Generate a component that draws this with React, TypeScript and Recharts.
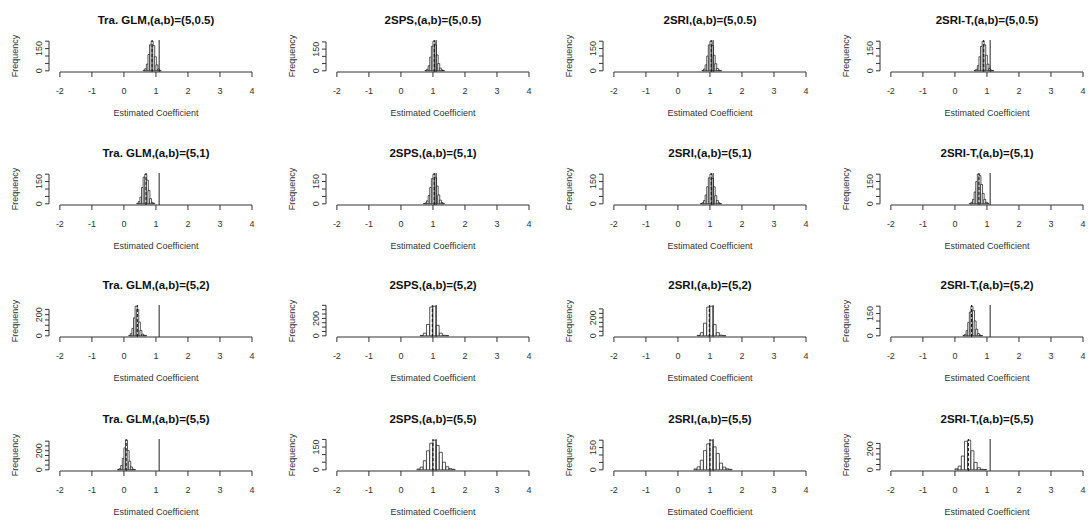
import { ComposedChart, Bar, XAxis, YAxis, ReferenceLine } from "recharts";

// simulation histograms, 4 methods x 4 (a,b) settings
const titles = [
  "Tra. GLM,(a,b)=(5,0.5)", "2SPS,(a,b)=(5,0.5)", "2SRI,(a,b)=(5,0.5)", "2SRI-T,(a,b)=(5,0.5)",
  "Tra. GLM,(a,b)=(5,1)", "2SPS,(a,b)=(5,1)", "2SRI,(a,b)=(5,1)", "2SRI-T,(a,b)=(5,1)",
  "Tra. GLM,(a,b)=(5,2)", "2SPS,(a,b)=(5,2)", "2SRI,(a,b)=(5,2)", "2SRI-T,(a,b)=(5,2)",
  "Tra. GLM,(a,b)=(5,5)", "2SPS,(a,b)=(5,5)", "2SRI,(a,b)=(5,5)", "2SRI-T,(a,b)=(5,5)",
];

// left edge of first bin, bin width
const binStarts = [0.6, 0.75, 0.75, 0.6, 0.4, 0.7, 0.7, 0.45, 0.15, 0.6, 0.6, 0.25, -0.2, 0.5, 0.5, 0.0];
const binWidths = [0.05, 0.05, 0.05, 0.05, 0.05, 0.05, 0.05, 0.05, 0.05, 0.1, 0.1, 0.05, 0.05, 0.1, 0.1, 0.1];

const counts = [
  [4, 14, 45, 110, 175, 200, 170, 95, 40, 12, 3],
  [3, 10, 35, 95, 170, 205, 180, 110, 50, 18, 6, 2],
  [3, 12, 40, 100, 175, 200, 170, 105, 48, 16, 5, 2],
  [3, 10, 35, 95, 165, 200, 175, 105, 45, 15, 5, 2],
  [4, 15, 45, 110, 180, 200, 160, 90, 35, 10, 3],
  [2, 6, 20, 55, 110, 170, 200, 175, 120, 60, 25, 8, 3],
  [2, 7, 22, 60, 115, 175, 200, 170, 115, 55, 22, 7, 2],
  [3, 10, 30, 80, 150, 200, 190, 130, 70, 30, 10, 4],
  [4, 20, 70, 170, 280, 250, 130, 50, 15, 5, 2],
  [4, 30, 130, 330, 340, 120, 30, 6, 2],
  [5, 35, 140, 320, 330, 125, 35, 8, 2],
  [3, 10, 35, 90, 160, 200, 170, 100, 45, 15, 5, 2],
  [3, 12, 45, 120, 230, 310, 200, 90, 30, 8, 2],
  [5, 18, 60, 125, 175, 195, 160, 115, 50, 20, 8, 3],
  [6, 20, 65, 130, 175, 200, 155, 110, 45, 18, 7, 3],
  [10, 35, 130, 270, 280, 180, 70, 20, 5, 2],
];

const means = [0.88, 1.04, 1.04, 0.9, 0.69, 1.04, 1.04, 0.75, 0.42, 0.98, 0.98, 0.52, 0.07, 1.0, 1.0, 0.42];
const shownYLabels = [150, 150, 150, 150, 150, 150, 150, 150, 200, 200, 200, 150, 200, 150, 150, 200];

const xTicks = [-2, -1, 0, 1, 2, 3, 4];
const TRUE_BETA = 1.1;
const XLO = -2.34;

const COL_LEFT = [0, 277, 554, 831];
const ROW_TOP = [0, 133, 265, 399];
const FONT = "'Liberation Sans', Arial, sans-serif";

const YTick = (props: any) => {
  const { x, y, payload, label } = props;
  if (payload.value !== 0 && payload.value !== label) return <g />;
  return (
    <text
      x={x}
      y={y}
      transform={`rotate(-90 ${x} ${y})`}
      textAnchor="middle"
      fontSize={9}
      fontFamily={FONT}
      fill="#333"
    >
      {payload.value}
    </text>
  );
};

const Panel = ({ idx }: { idx: number }) => {
  const row = Math.floor(idx / 4);
  const col = idx % 4;
  const w = binWidths[idx];
  const data = counts[idx].map((n, i) => ({
    x: Math.round((binStarts[idx] + (i + 0.5) * w) * 1000) / 1000,
    n,
  }));
  const M = Math.max(...counts[idx]);
  const yLo = -0.04 * M;
  const yHi = 1.04 * M;
  const yTicks: number[] = [];
  for (let t = 0; t <= yHi; t += 50) yTicks.push(t);
  const topTick = yTicks[yTicks.length - 1];

  return (
    <div
      style={{
        position: "absolute",
        left: COL_LEFT[col],
        top: ROW_TOP[row],
        width: 272,
        height: 133,
      }}
    >
      <ComposedChart
        width={262}
        height={105}
        data={data}
        margin={{ top: 40, right: 10, bottom: 0, left: 9 }}
        barCategoryGap={0}
        barGap={0}
      >
        <XAxis
          dataKey="x"
          type="number"
          domain={[XLO, 4]}
          ticks={xTicks}
          interval={0}
          allowDataOverflow
          axisLine={false}
          tickSize={5}
          tickMargin={11}
          height={33}
          stroke="#333"
          tick={{ fontSize: 9, fill: "#333", fontFamily: FONT }}
        />
        <YAxis
          type="number"
          domain={[yLo, yHi]}
          ticks={yTicks}
          interval={0}
          allowDataOverflow
          axisLine={false}
          width={40}
          tickSize={4}
          tickMargin={3}
          stroke="#333"
          tick={(p: any) => <YTick {...p} label={shownYLabels[idx]} />}
        />
        <Bar
          dataKey="n"
          fill="#fff"
          stroke="#111"
          strokeWidth={0.7}
          isAnimationActive={false}
        />
        <ReferenceLine x={means[idx]} stroke="#111" strokeDasharray="3 2" />
        <ReferenceLine x={TRUE_BETA} stroke="#222" />
        <ReferenceLine
          segment={[
            { x: -2, y: yLo },
            { x: 4, y: yLo },
          ]}
          ifOverflow="visible"
          stroke="#333"
        />
        <ReferenceLine
          segment={[
            { x: XLO, y: 0 },
            { x: XLO, y: topTick },
          ]}
          ifOverflow="visible"
          stroke="#333"
        />
      </ComposedChart>
      <div
        style={{
          position: "absolute",
          left: 56,
          top: 13,
          width: 200,
          textAlign: "center",
          fontFamily: FONT,
          fontWeight: "bold",
          fontSize: 11.5,
          lineHeight: "14px",
          color: "#111",
          whiteSpace: "nowrap",
        }}
      >
        {titles[idx]}
      </div>
      <div
        style={{
          position: "absolute",
          left: 15,
          top: 56,
          transform: "translate(-50%, -50%) rotate(-90deg)",
          fontFamily: FONT,
          fontSize: 9,
          lineHeight: "11px",
          color: "#333",
          whiteSpace: "nowrap",
        }}
      >
        Frequency
      </div>
      <div
        style={{
          position: "absolute",
          left: 56,
          top: 107,
          width: 200,
          textAlign: "center",
          fontFamily: FONT,
          fontSize: 9,
          lineHeight: "12px",
          color: "#333",
          whiteSpace: "nowrap",
        }}
      >
        Estimated Coefficient
      </div>
    </div>
  );
};

export default function App() {
  return (
    <div
      style={{
        position: "absolute",
        left: 0,
        top: 0,
        width: 1089,
        height: 530,
        overflow: "hidden",
        background: "#fff",
      }}
    >
      {titles.map((_, i) => (
        <Panel key={i} idx={i} />
      ))}
    </div>
  );
}
